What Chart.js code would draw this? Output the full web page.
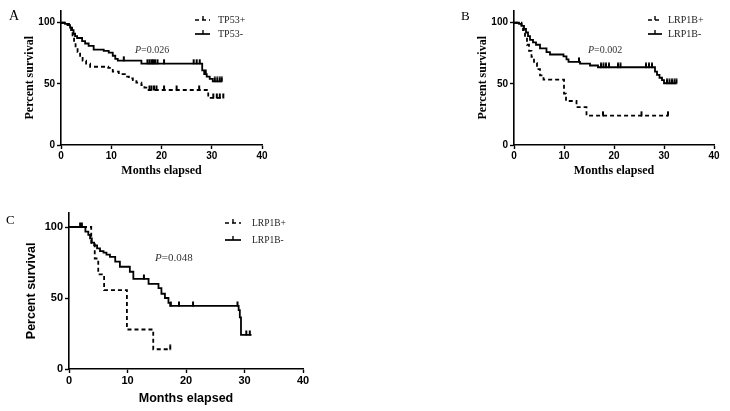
<!DOCTYPE html>
<html>
<head>
<meta charset="utf-8">
<script src="https://cdn.jsdelivr.net/npm/chart.js@4.4.0/dist/chart.umd.min.js"></script>
<style>
  html, body { margin: 0; padding: 0; background: #fff; }
  #wrap { position: relative; width: 730px; height: 411px; overflow: hidden; }
  #wrap canvas { position: absolute; left: 0; top: 0; }
</style>
</head>
<body>
<div id="wrap">
  <canvas id="chartA" width="730" height="411"></canvas>
  <canvas id="chartB" width="730" height="411"></canvas>
  <canvas id="chartC" width="730" height="411"></canvas>
</div>
<script>
'use strict';

// ticks shared by the three panels
const xTicks = [0, 10, 20, 30, 40];
const yTicks = [0, 50, 100];

// Panel A - TP53 ([month, percent survival])
const tp53PosSteps = [[0,100],[1,99],[1.6,97],[2,94],[2.3,89],[2.6,84],[2.9,80],[3.3,76],[3.8,72],[4.3,69],[5,66.5],[5.8,64],[9.4,63],[10.3,60],[11.5,58],[12.7,56],[13.5,54.5],[14.3,53],[15,51],[16,49],[16.6,47],[17.2,45],[29.3,38.5],[32.3,38.5]];
const tp53NegSteps = [[0,100],[0.8,99],[1.3,98],[1.8,96],[2.2,94],[2.5,91],[2.8,89],[3.2,87.5],[4.2,85],[4.8,83],[5.5,81],[6.5,78],[8.5,77],[9.5,75.5],[10.3,73],[10.8,70.5],[11.3,69],[16,66.6],[28.1,61],[28.5,58],[29,56],[29.6,54],[30.2,52],[32,52]];
const tp53PosCensor = [[17.6,45],[18,45],[18.5,45],[19,45],[20.5,45],[23,45],[27.5,45],[30.3,38.5],[31,38.5],[31.6,38.5],[32.3,38.5]];
const tp53NegCensor = [[12.5,69],[17.2,66.6],[17.6,66.6],[18,66.6],[18.3,66.6],[18.7,66.6],[19.2,66.6],[20.5,66.6],[26.4,66.6],[27,66.6],[27.6,66.6],[28.8,58],[30.6,52],[31.1,52],[31.6,52],[32,52]];

// Panel B - LRP1B
const lrpPosStepsB = [[0,100],[1.5,98],[1.8,94],[2.2,88],[2.6,82],[3,77],[3.5,72],[4,67],[4.6,62],[5.2,57],[5.9,53.5],[10,42],[10.4,36],[12.5,31],[14.5,24],[30.8,24]];
const lrpNegStepsB = [[0,100],[1,99],[1.5,97.5],[2,95],[2.4,92],[2.8,89],[3.2,86],[3.8,84],[4.4,82],[5.2,79],[6.5,76],[7.2,74],[9.9,72.5],[10.5,70],[10.9,68],[13.2,66.6],[15.2,65],[16.8,63.6],[28.2,60],[28.6,57.4],[29.1,55],[29.6,53],[30,50.5],[32.5,50.5]];
const lrpPosCensorB = [[17.8,24],[25.5,24],[30.8,24]];
const lrpNegCensorB = [[13,68],[17.4,63.6],[17.9,63.6],[18.4,63.6],[19,63.6],[20.8,63.6],[21.3,63.6],[26.4,63.6],[27,63.6],[27.6,63.6],[30.6,50.5],[31.1,50.5],[31.6,50.5],[32.1,50.5],[32.5,50.5]];

// Panel C - LRP1B (second cohort)
const lrpPosStepsC = [[0,100],[3.8,88.9],[4.4,77.8],[5,66.7],[6,55.6],[9.9,27.8],[14.4,13.9],[17.3,13.9]];
const lrpNegStepsC = [[0,100],[2.8,96.7],[3.3,94.4],[3.6,92],[3.9,89],[4.3,87],[4.8,85],[5.3,83],[5.9,82],[6.4,80.5],[7,79],[7.9,75.6],[8.7,72],[10.4,68.5],[11,63.4],[13.6,60],[15.3,57],[15.8,53],[16.4,50],[17,46.5],[17.3,44.4],[29,41.5],[29.2,36.4],[29.4,24],[31.2,24]];
const lrpPosCensorC = [[17.3,13.9]];
const lrpNegCensorC = [[1.9,100],[2.2,100],[12.8,63.4],[17.4,44.4],[18.8,44.4],[21.2,44.4],[28.8,44.4],[30.3,24],[30.9,24]];

// text placement for each panel (letter, legend, p value)
const panelLayout = {
    chartA: { letter: 'A', letterX: 9, letterY: 20, letterSize: 14,
              legendX0: 195, legendX1: 210, legendTextX: 218, legendRows: [20, 34], legendSize: 10,
              pX: 135, pY: 50, pText: '=0.026', pSize: 10 },
    chartB: { letter: 'B', letterX: 461, letterY: 20, letterSize: 13,
              legendX0: 648, legendX1: 662, legendTextX: 668, legendRows: [20, 34], legendSize: 10,
              pX: 588, pY: 50, pText: '=0.002', pSize: 10 },
    chartC: { letter: 'C', letterX: 6, letterY: 224, letterSize: 13,
              legendX0: 225, legendX1: 241, legendTextX: 252, legendRows: [223, 240], legendSize: 9.5,
              pX: 155, pY: 258, pText: '=0.048', pSize: 11 }
};

// censor mark: short tick rising from the curve
const censorTick = document.createElement('canvas');
censorTick.width = 4;
censorTick.height = 10;
(function () {
    const c = censorTick.getContext('2d');
    c.fillStyle = '#000';
    c.fillRect(1, 0.5, 2, 5);
})();

const panelText = {
    id: 'panelText',
    afterDraw(chart) {
        const lay = panelLayout[chart.canvas.id];
        if (!lay) return;
        const ctx = chart.ctx;
        const sets = chart.data.datasets;
        ctx.save();

        ctx.fillStyle = '#000';
        ctx.font = `${lay.letterSize}px "Liberation Serif"`;
        ctx.textBaseline = 'alphabetic';
        ctx.fillText(lay.letter, lay.letterX, lay.letterY);

        // legend: sample line with a censor tick, then label
        lay.legendRows.forEach((rowY, i) => {
            const set = sets[i];
            ctx.strokeStyle = '#000';
            ctx.lineWidth = 1.7;
            ctx.setLineDash(set.borderDash || []);
            ctx.beginPath();
            ctx.moveTo(lay.legendX0, rowY);
            ctx.lineTo(lay.legendX1, rowY);
            ctx.stroke();
            ctx.setLineDash([]);
            const mid = Math.round((lay.legendX0 + lay.legendX1) / 2);
            ctx.lineWidth = 1.4;
            ctx.beginPath();
            ctx.moveTo(mid, rowY);
            ctx.lineTo(mid, rowY - 4);
            ctx.stroke();
            ctx.fillStyle = '#222';
            ctx.font = `${lay.legendSize}px "Liberation Serif"`;
            ctx.textBaseline = 'middle';
            ctx.fillText(set.label, lay.legendTextX, rowY);
        });

        // p value, italic P
        ctx.fillStyle = '#333';
        ctx.textBaseline = 'middle';
        ctx.font = `italic ${lay.pSize}px "Liberation Serif"`;
        ctx.fillText('P', lay.pX, lay.pY);
        const w = ctx.measureText('P').width;
        ctx.font = `${lay.pSize}px "Liberation Serif"`;
        ctx.fillText(lay.pText, lay.pX + w, lay.pY);

        ctx.restore();
    }
};

function stepSet(label, steps, dashed) {
    return {
        label: label,
        data: steps.map(p => ({ x: p[0], y: p[1] })),
        showLine: true,
        stepped: 'before',
        borderColor: '#000',
        borderWidth: 1.8,
        borderDash: dashed ? [4, 3] : [],
        pointRadius: 0,
        fill: false
    };
}

function censorSet(label, marks) {
    return {
        label: label,
        data: marks.map(p => ({ x: p[0], y: p[1] })),
        showLine: false,
        pointStyle: censorTick,
        pointRadius: 3,
        borderColor: '#000'
    };
}

function makePanel(id, cfg) {
    const tickFont = { family: '"Liberation Sans"', weight: 'bold', size: cfg.tickSize };
    const titleFont = { family: cfg.titleFamily, weight: 'bold', size: cfg.titleSize };
    const axisLine = { display: true, color: '#000', width: 1.6 };
    const tickMarks = { display: true, drawOnChartArea: false, drawTicks: true, tickLength: 4,
                        tickColor: '#000', tickWidth: 1.4, color: '#000' };

    return new Chart(document.getElementById(id), {
        type: 'scatter',
        data: {
            datasets: [
                stepSet(cfg.names[0], cfg.posSteps, true),
                stepSet(cfg.names[1], cfg.negSteps, false),
                censorSet(cfg.names[0] + ' censored', cfg.posCensor),
                censorSet(cfg.names[1] + ' censored', cfg.negCensor)
            ]
        },
        options: {
            responsive: false,
            animation: false,
            events: [],
            layout: { padding: cfg.pad },
            plugins: { legend: { display: false }, tooltip: { enabled: false } },
            scales: {
                x: {
                    type: 'linear', min: 0, max: 40,
                    border: axisLine, grid: tickMarks,
                    ticks: { color: '#000', font: tickFont, padding: 1, maxRotation: 0, autoSkip: false },
                    title: { display: true, text: 'Months elapsed', color: '#000', font: titleFont,
                             padding: { top: 0, bottom: cfg.xTitlePad } },
                    afterBuildTicks: s => { s.ticks = xTicks.map(v => ({ value: v })); },
                    afterFit: s => { s.height = cfg.xH; }
                },
                y: {
                    type: 'linear', min: 0, max: 110,
                    border: axisLine, grid: tickMarks,
                    ticks: { color: '#000', font: tickFont, padding: 2 },
                    title: { display: true, text: 'Percent survival', color: '#000', font: titleFont,
                             padding: { top: cfg.yTitlePad, bottom: 0 } },
                    afterBuildTicks: s => { s.ticks = yTicks.map(v => ({ value: v })); },
                    afterFit: s => { s.width = cfg.yW; }
                }
            }
        },
        plugins: [panelText]
    });
}

makePanel('chartA', {
    names: ['TP53+', 'TP53-'],
    posSteps: tp53PosSteps, negSteps: tp53NegSteps,
    posCensor: tp53PosCensor, negCensor: tp53NegCensor,
    pad: { left: 20, top: 10.5, right: 468, bottom: 231 },
    yW: 41, xH: 35, tickSize: 10,
    titleFamily: '"Liberation Serif"', titleSize: 12, yTitlePad: 2.8, xTitlePad: 2.1
});

makePanel('chartB', {
    names: ['LRP1B+', 'LRP1B-'],
    posSteps: lrpPosStepsB, negSteps: lrpNegStepsB,
    posCensor: lrpPosCensorB, negCensor: lrpNegCensorB,
    pad: { left: 473, top: 10.5, right: 16, bottom: 231 },
    yW: 41, xH: 35, tickSize: 10,
    titleFamily: '"Liberation Serif"', titleSize: 12, yTitlePad: 2.8, xTitlePad: 2.1
});

makePanel('chartC', {
    names: ['LRP1B+', 'LRP1B-'],
    posSteps: lrpPosStepsC, negSteps: lrpNegStepsC,
    posCensor: lrpPosCensorC, negCensor: lrpNegCensorC,
    pad: { left: 22, top: 212.8, right: 427, bottom: 2 },
    yW: 47, xH: 40, tickSize: 11,
    titleFamily: '"Liberation Sans"', titleSize: 12.5, yTitlePad: 2.5, xTitlePad: 2.5
});
</script>
</body>
</html>
